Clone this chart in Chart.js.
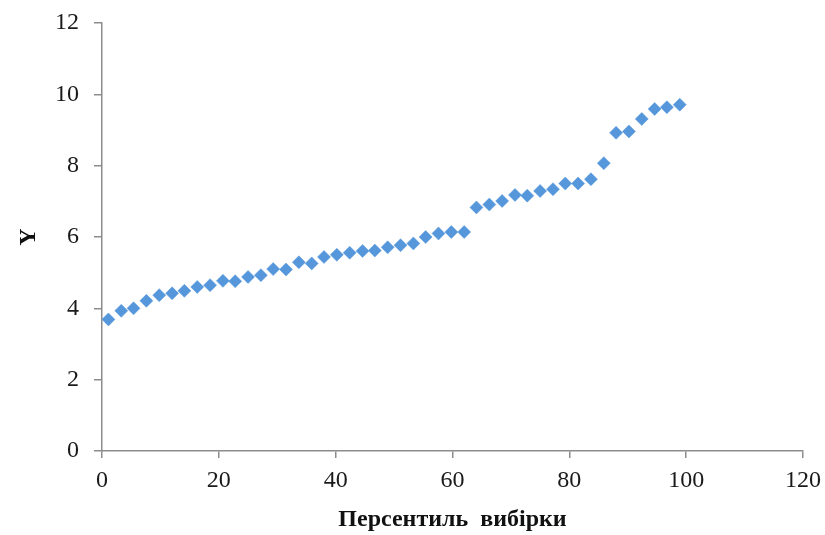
<!DOCTYPE html>
<html lang="uk">
<head>
<meta charset="UTF-8">
<title>Персентиль вибірки</title>
<script src="https://cdn.jsdelivr.net/npm/chart.js@4"></script>
<style>
  html, body { margin: 0; padding: 0; background: #fff; }
  #wrap { width: 825px; height: 535px; }
</style>
</head>
<body>
<div id="wrap"><canvas id="chart" width="825" height="535"></canvas></div>
<script>
// дані
const percentil = [1.1, 3.3, 5.4, 7.6, 9.8, 12.0, 14.1, 16.3, 18.5, 20.7, 22.8, 25.0, 27.2, 29.3, 31.5, 33.7,
  35.9, 38.0, 40.2, 42.4, 44.6, 46.7, 48.9, 51.1, 53.3, 55.4, 57.6, 59.8, 62.0, 64.1, 66.3, 68.5,
  70.7, 72.8, 75.0, 77.2, 79.3, 81.5, 83.7, 85.9, 88.0, 90.2, 92.4, 94.6, 96.7, 98.9];
const yValues = [3.69, 3.93, 4.0, 4.21, 4.37, 4.42, 4.49, 4.6, 4.65, 4.77, 4.76, 4.88, 4.93, 5.1, 5.09, 5.29,
  5.26, 5.44, 5.5, 5.56, 5.61, 5.62, 5.71, 5.77, 5.82, 6.0, 6.1, 6.14, 6.14, 6.83, 6.91, 7.01,
  7.18, 7.16, 7.29, 7.34, 7.5, 7.5, 7.62, 8.07, 8.92, 8.96, 9.31, 9.59, 9.64, 9.71];
const xTicks = [0, 20, 40, 60, 80, 100, 120];
const yTicks = [0, 2, 4, 6, 8, 10, 12];
const xTitle = 'Персентиль  вибірки';
const yTitle = 'Y';

const points = percentil.map((x, i) => ({ x: x, y: yValues[i] }));
const axisColor = '#8c8c8c';
const tickFont = { family: "'Liberation Serif', 'Times New Roman', serif", size: 24 };
const titleFont = { family: "'Liberation Serif', 'Times New Roman', serif", size: 24, weight: 'bold' };

new Chart(document.getElementById('chart'), {
  type: 'scatter',
  data: {
    datasets: [{
      data: points,
      pointStyle: 'rectRot',
      pointRadius: 6.5,
      pointBackgroundColor: '#5597da',
      pointBorderColor: '#5597da',
      pointBorderWidth: 0.5,
      showLine: false
    }]
  },
  options: {
    responsive: false,
    animation: false,
    layout: { padding: { top: 23, right: 22, left: 0, bottom: 0 } },
    plugins: { legend: { display: false }, tooltip: { enabled: false } },
    scales: {
      x: {
        type: 'linear',
        min: 0, max: 120,
        afterBuildTicks: s => { s.ticks = xTicks.map(v => ({ value: v })); },
        afterFit: s => { s.height = 84; s.paddingLeft = 0; s.paddingRight = 0; },
        grid: { drawOnChartArea: false, drawTicks: true, tickLength: 7, color: axisColor, lineWidth: 1.5 },
        border: { color: axisColor, width: 1.5 },
        ticks: { color: '#1a1a1a', font: tickFont, padding: 8, maxRotation: 0 },
        title: { display: true, text: xTitle, color: '#111', font: titleFont, padding: { top: 0, bottom: 1 } }
      },
      y: {
        type: 'linear',
        min: 0, max: 12,
        afterBuildTicks: s => { s.ticks = yTicks.map(v => ({ value: v })); },
        afterFit: s => { s.width = 102; s.paddingTop = 0; s.paddingBottom = 0; },
        grid: { drawOnChartArea: false, drawTicks: true, tickLength: 8, color: axisColor, lineWidth: 1.5 },
        border: { color: axisColor, width: 1.5 },
        ticks: { color: '#1a1a1a', font: tickFont, padding: 15 },
        title: { display: true, text: yTitle, color: '#111', font: titleFont, padding: { top: 14, bottom: 0 } }
      }
    }
  }
});
</script>
</body>
</html>
